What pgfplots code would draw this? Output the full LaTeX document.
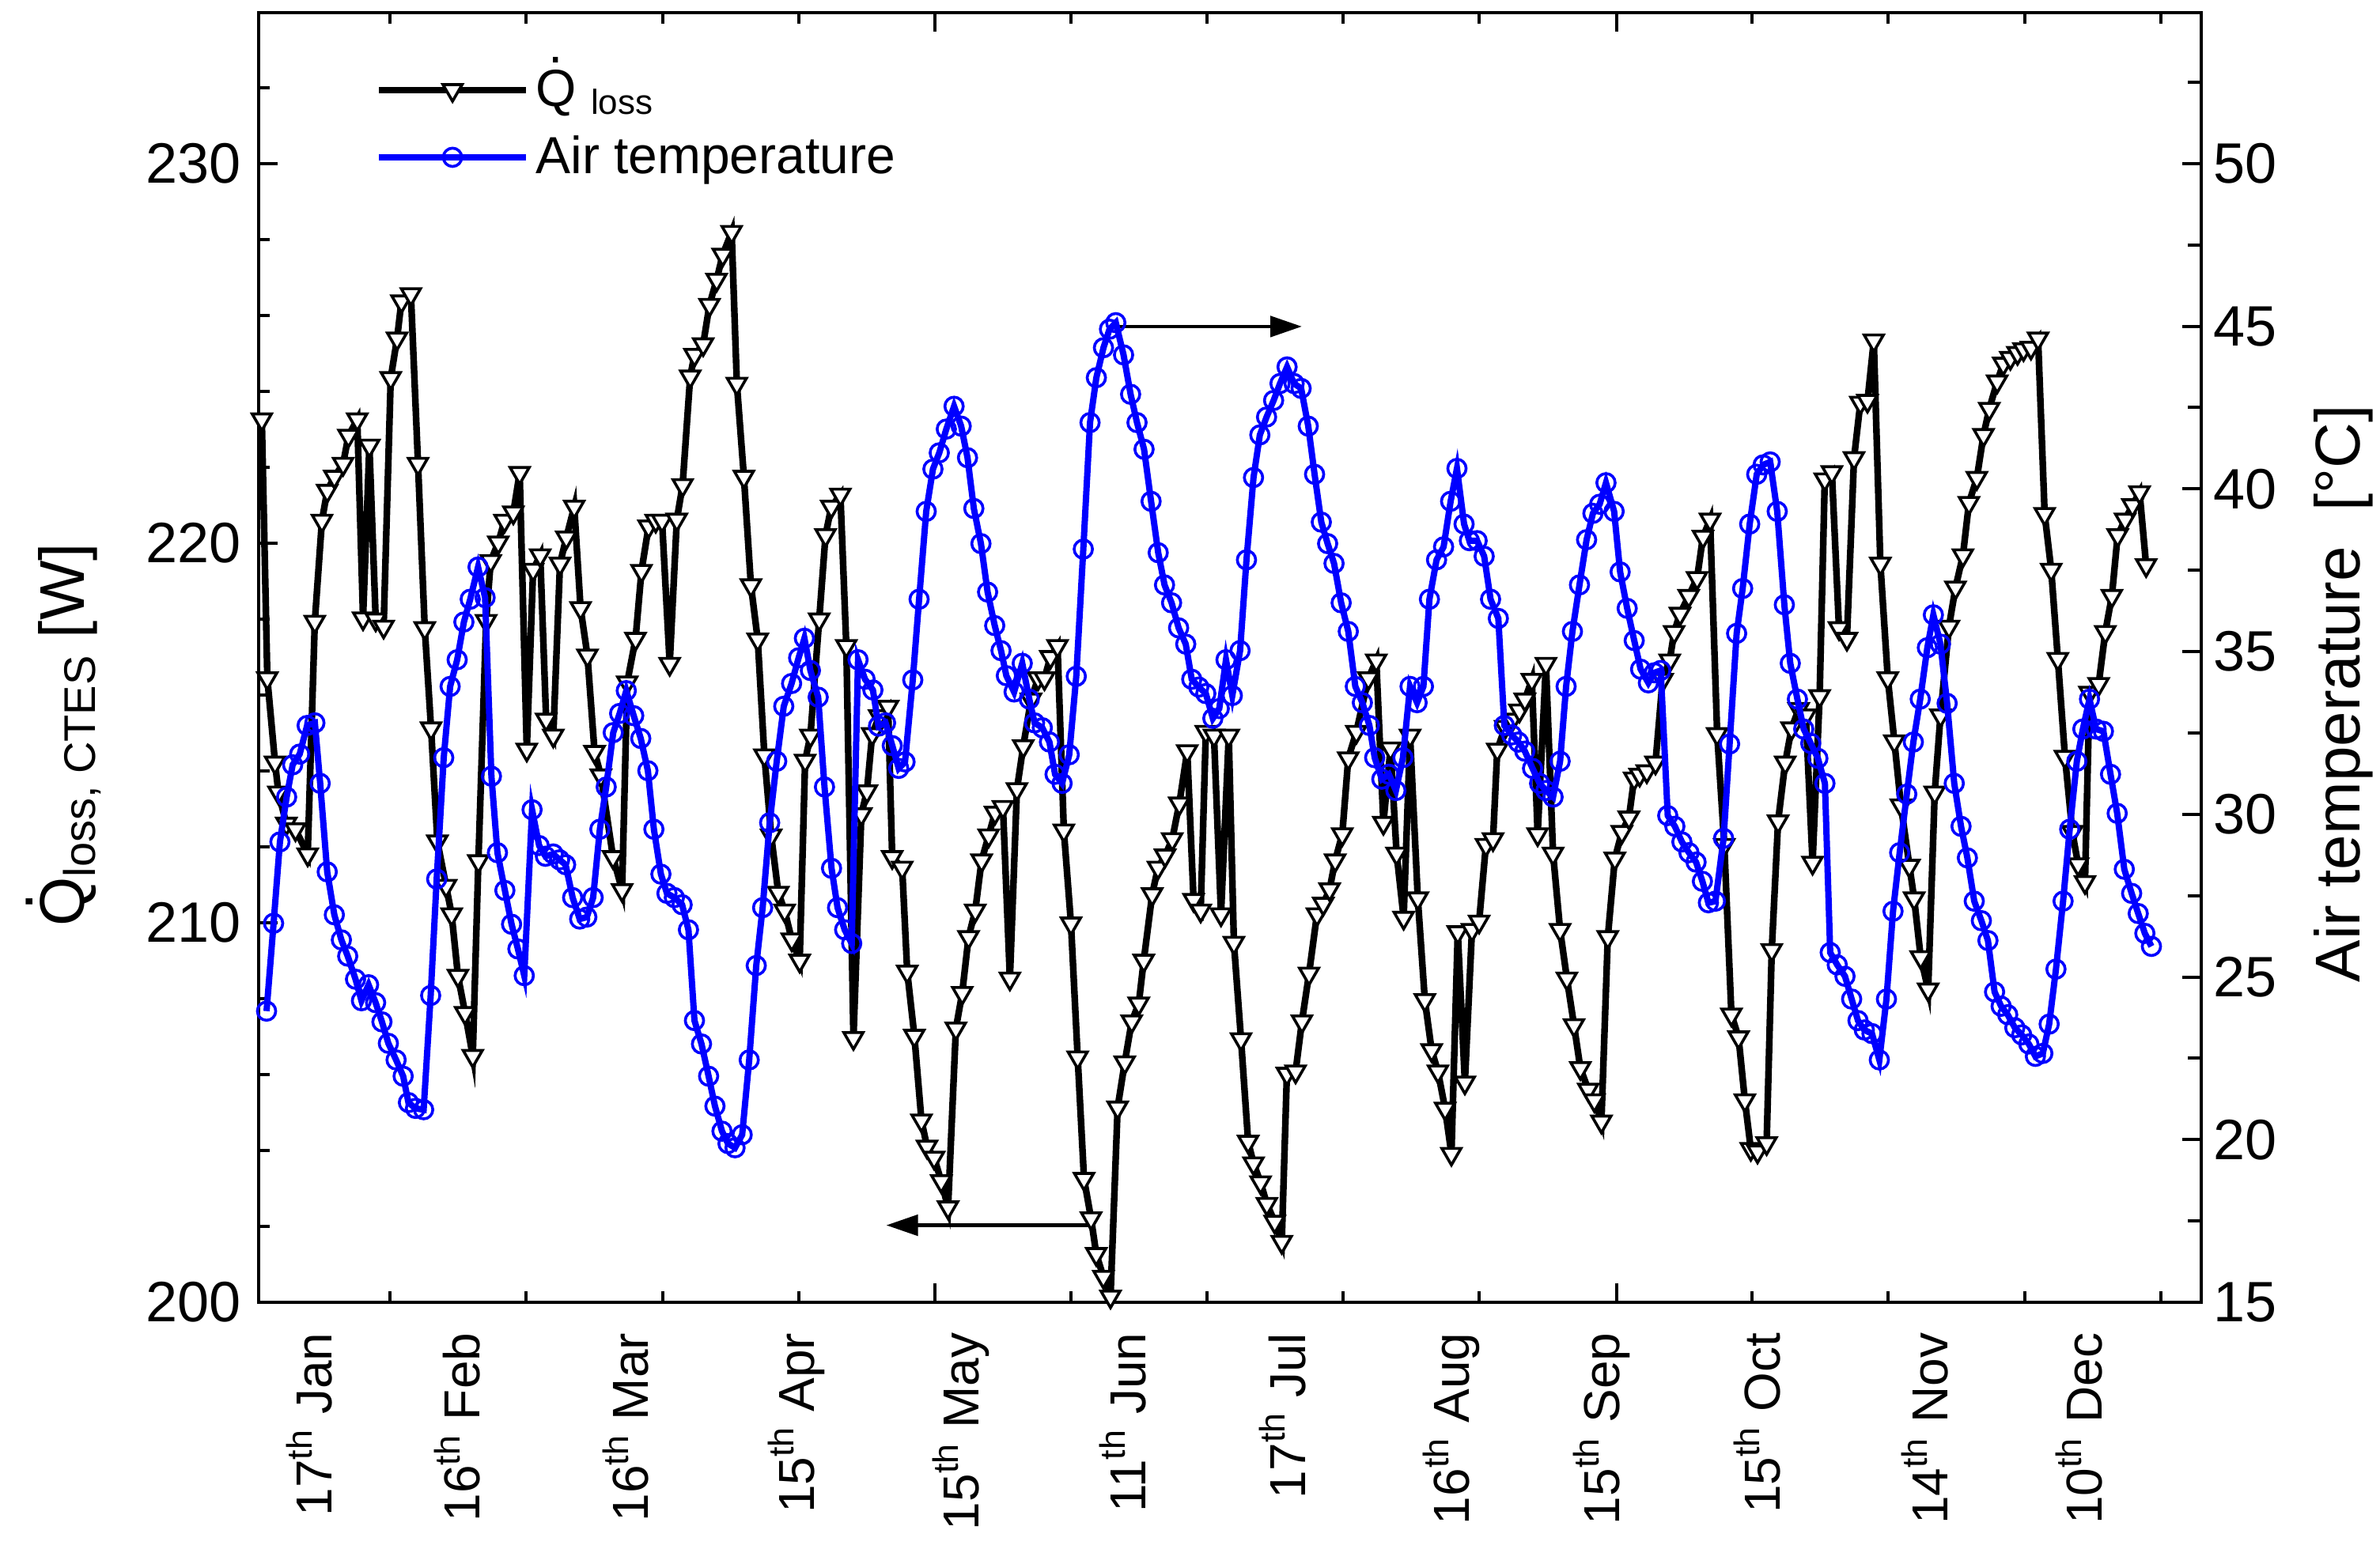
\documentclass[border=0pt]{standalone}
\usepackage{pgfplots}
\pgfplotsset{compat=1.18}
\usepackage{fontspec}
\setmainfont{Liberation Sans}
\usetikzlibrary{arrows.meta}
\newcommand{\Qdot}{\ooalign{Q\cr\hidewidth\raisebox{0.82em}{.}\hidewidth\cr}}
\definecolor{pblue}{RGB}{0,0,255}
\begin{document}
\begin{tikzpicture}
\useasboundingbox (-81.75pt,-78pt) rectangle (670.5pt,411.75pt);
\begin{axis}[
  at={(0pt,0pt)}, anchor=south west,
  scale only axis, width=614pt, height=407.75pt,
  xmin=327, xmax=2783, ymin=200, ymax=233.98,
  axis line style={line width=1pt},
  tick style={line width=1pt, black},
  tick align=inside,
  major tick length=6pt, minor tick length=3.5pt,
  ytick={200,210,220,230}, minor ytick={202,204,206,208,212,214,216,218,222,224,226,228,232},
  ytick pos=left, xtick pos=both,
  xtick={1182.2,2043.7},
  xticklabels={{},{}},
  minor xtick={493,665.3,837.6,1009.9,1353.5,1525.8,1698.1,1870.4,2215,2387.3,2559.6,2731.9},
  extra x ticks={420,607,820,1029,1237,1448,1650,1857,2047,2250,2462,2657},
  extra x tick labels={{17\textsuperscript{th} Jan},{16\textsuperscript{th} Feb},{16\textsuperscript{th} Mar},{15\textsuperscript{th} Apr},{15\textsuperscript{th} May},{11\textsuperscript{th} Jun},{17\textsuperscript{th} Jul},{16\textsuperscript{th} Aug},{15\textsuperscript{th} Sep},{15\textsuperscript{th} Oct},{14\textsuperscript{th} Nov},{10\textsuperscript{th} Dec}},
  extra x tick style={major tick length=0pt},
  xticklabel style={rotate=90, anchor=base east, inner sep=0pt, font=\fontsize{16}{16}\selectfont},
  xticklabel shift=9.5pt,
  yticklabel style={inner sep=0pt, font=\fontsize{18}{18}\selectfont},
  yticklabel shift=5.5pt,
  /pgf/number format/assume math mode=true,
  ylabel={\Qdot\raisebox{-3.5pt}{\fontsize{14}{14}\selectfont loss, CTES}\ [W]},
  ylabel style={at={(axis description cs:-0.0897,0.44)}, anchor=base, inner sep=0pt, font=\fontsize{20}{20}\selectfont},
]
\addplot[black, line width=2.1pt, mark=triangle*, mark size=3.5pt, mark options={rotate=180, fill=white, draw=black, line width=0.9pt, solid}] coordinates {
(331,223.26) (338,216.44) (347.7,214.22) (352,213.43) (362,212.61) (373.6,212.46) (389,211.80) (398,217.93) (407,220.59) (413.7,221.38)
(422.7,221.75) (433.8,222.09) (440.5,222.83) (451.7,223.26) (459,218.02) (467,222.57) (475,217.99) (485,217.80) (494,224.35) (502,225.39)
(507.5,226.37) (519.5,226.56) (528.5,222.09) (537,217.76) (545,215.12) (553,212.14) (564,210.97) (571,210.22) (579,208.60) (588,207.62)
(597.7,206.49) (604.8,211.62) (614.6,217.95) (620.4,219.53) (630,220.02) (637.8,220.59) (649,220.81) (657,221.85) (666,214.56) (674,219.30)
(683,219.68) (690.5,215.35) (699.5,214.93) (708,219.46) (716,220.15) (726,220.96) (734,218.29) (742.7,217.04) (751.7,214.50) (759.7,213.88)
(775,211.73) (786.5,210.86) (793,216.33) (803.5,217.48) (811,219.27) (820,220.44) (829,220.59) (837,220.59) (846.7,216.82) (855.7,220.62)
(863,221.53) (872.6,224.39) (878,224.96) (889,225.24) (897,226.28) (906,226.94) (913.7,227.60) (925,228.20) (931.6,224.20) (940.5,221.75)
(949.4,218.89) (958,217.46) (966.4,214.41) (975,212.30) (984,210.79) (992,210.32) (1001,209.56) (1011,209.00) (1017.9,214.27) (1024.6,214.93)
(1035.7,217.99) (1043.7,220.21) (1051,220.96) (1062.5,221.28) (1070,217.29) (1079,206.96) (1089,212.86) (1096,213.46) (1102.7,214.97) (1111.6,215.44)
(1122.8,215.69) (1128,211.73) (1140.6,211.45) (1147,208.71) (1156,207.02) (1165,204.79) (1172,204.10) (1181,203.81) (1190,203.19) (1198.6,202.50)
(1208.5,207.21) (1216.5,208.15) (1224.5,209.62) (1233,210.32) (1241,211.64) (1250,212.30) (1258,212.90) (1268,213.05) (1276.8,208.53) (1285.7,213.52)
(1293.7,214.65) (1303.5,215.88) (1312.5,216.44) (1320.5,216.44) (1328,217.00) (1337,217.29) (1345,212.43) (1354,209.98) (1362.5,206.45) (1370.5,203.25)
(1379.4,202.21) (1386,201.27) (1395,200.67) (1404,200.15) (1413,205.13) (1422,206.32) (1430.8,207.40) (1439.7,207.87) (1446,209.00) (1456.7,210.75)
(1464,211.45) (1473,211.77) (1482,212.20) (1491,213.14) (1501,214.52) (1509,210.60) (1518,210.32) (1524.5,215.03) (1534.8,214.93) (1543.7,210.22)
(1553.5,214.93) (1560,209.47) (1569,206.93) (1578,204.23) (1584.8,203.66) (1593.7,203.16) (1601.7,202.59) (1611.6,202.12) (1620.5,201.59) (1627,206.02)
(1638,206.08) (1646,207.40) (1655,208.66) (1665,210.22) (1673,210.50) (1681,210.88) (1688,211.64) (1697,212.33) (1704.6,214.33) (1714.8,215.03)
(1730,216.44) (1740,216.91) (1749,212.63) (1758,214.59) (1765.7,211.82) (1774.6,210.13) (1782.7,214.93) (1792.5,210.64) (1801.4,207.96) (1810,206.64)
(1818,206.08) (1827,205.10) (1835,203.91) (1843,209.75) (1852,205.79) (1861,209.81) (1870,210.03) (1878.6,212.05) (1887.6,212.20) (1893,214.56)
(1903,215.16) (1912,215.35) (1921,215.59) (1927.8,215.88) (1936.7,216.40) (1944,212.33) (1954.5,216.82) (1963.5,211.82) (1972.4,209.81) (1981,208.53)
(1990,207.30) (1998,206.17) (2008,205.60) (2015.7,205.32) (2024.6,204.76) (2032.7,209.62) (2041.6,211.69) (2050.5,212.39) (2059.4,212.77) (2066,213.80)
(2073,213.90) (2082,213.99) (2093,214.22) (2102,216.40) (2111,216.91) (2116.6,217.66) (2124,218.14) (2135,218.61) (2145.6,219.08) (2153,220.17)
(2162,220.62) (2171,214.97) (2180,212.05) (2189,207.58) (2198,206.98) (2206,205.32) (2213.5,204.04) (2222,203.97) (2233.5,204.19) (2240,209.28)
(2248,212.67) (2257,214.22) (2265,215.12) (2274,215.63) (2283,215.46) (2291.6,211.58) (2300.5,215.97) (2307,221.68) (2316,221.87) (2325,217.76)
(2335,217.48) (2344,222.24) (2352,223.70) (2361,223.75) (2369,225.34) (2377.3,219.46) (2386.7,216.44) (2395,214.78) (2403.3,213.09) (2414,211.50)
(2420,210.64) (2428.3,209.09) (2437.7,208.24) (2446,213.43) (2453.3,215.46) (2464,217.80) (2472.3,218.83) (2481.7,219.68) (2489.3,221.06) (2499.3,221.72)
(2507.7,222.85) (2515,223.54) (2525,224.26) (2532.7,224.73) (2541.7,224.88) (2550.7,225.01) (2558.3,225.11) (2567.7,225.15) (2576.7,225.39) (2585,220.77)
(2593.3,219.30) (2601.7,216.95) (2610.7,214.37) (2620,212.39) (2627.3,211.54) (2636,211.07) (2641.7,216.06) (2653.3,216.29) (2661.7,217.66) (2670,218.61)
(2677.3,220.21) (2686.7,220.62) (2696,221.00) (2705,221.34) (2713.3,219.42)
};
\draw[line width=1.2pt, -{Triangle[length=10pt,width=6.5pt]}] (axis cs:1413,225.71) -- (axis cs:1646,225.71);
\draw[line width=1.2pt, -{Triangle[length=10pt,width=6.5pt]}] (axis cs:1377,202.03) -- (axis cs:1120.5,202.03);
\end{axis}
\begin{axis}[
  at={(0pt,0pt)}, anchor=south west,
  scale only axis, width=614pt, height=407.75pt,
  xmin=327, xmax=2783, ymin=15, ymax=54.64,
  axis x line=none, axis y line*=right,
  axis line style={line width=1pt},
  tick style={line width=1pt, black},
  tick align=inside,
  major tick length=6pt, minor tick length=4.25pt,
  ytick={15,20,25,30,35,40,45,50}, minor ytick={17.5,22.5,27.5,32.5,37.5,42.5,47.5,52.5},
  yticklabel style={inner sep=0pt, font=\fontsize{18}{18}\selectfont},
  yticklabel shift=3.75pt,
  /pgf/number format/assume math mode=true,
  ylabel={Air temperature\ \ [°C]},
  ylabel style={at={(axis description cs:1.0815,0.472)}, anchor=base, inner sep=0pt, font=\fontsize{20}{20}\selectfont},
  legend style={draw=none, fill=none, at={(axis description cs:0.0599,0.9136)}, anchor=west, inner sep=0pt, row sep=4pt, font=\fontsize{16.5}{16.5}\selectfont, /tikz/every even column/.append style={column sep=2.5pt}},
  legend cell align=left,
  legend image code/.code={\draw[mark repeat=2,mark phase=2,#1] plot coordinates {(0pt,0pt) (23.25pt,0pt) (46.5pt,0pt)};},
]
\addlegendimage{black, line width=2.1pt, mark=triangle*, mark size=3.5pt, mark options={rotate=180, fill=white, draw=black, line width=0.9pt, solid}}
\addlegendentry{\Qdot\ \raisebox{-2.5pt}{\fontsize{11}{11}\selectfont loss}}
\addplot[pblue, line width=2pt, mark=o, mark size=2.9pt, mark options={fill=white, draw=pblue, line width=0.9pt, solid}] coordinates {
(337,23.95) (345.9,26.65) (353.9,29.15) (362.4,30.53) (370,31.52) (378.9,31.85) (388.3,32.73) (398.1,32.81) (404.8,30.95) (413.7,28.23)
(422.7,26.91) (431.6,26.14) (439.6,25.64) (449.5,24.93) (457,24.27) (466,24.76) (474.9,24.21) (482.9,23.62) (491,22.96) (500.8,22.45)
(509.7,21.95) (516.4,21.14) (525.3,20.96) (535.6,20.92) (544.5,24.43) (552.1,28.01) (561,31.74) (569.1,33.93) (578,34.75) (586.5,35.91)
(594.5,36.61) (604.4,37.60) (613.3,36.66) (621.3,31.17) (628.9,28.82) (638.3,27.66) (646.8,26.62) (654.8,25.86) (662.8,25.04) (672.7,30.14)
(681.6,29.04) (689.6,28.71) (699.4,28.78) (707.5,28.60) (715.1,28.45) (724,27.44) (732.9,26.78) (741.9,26.84) (749.9,27.44) (758.4,29.54)
(766.4,30.84) (775.3,32.51) (783.4,33.10) (791.8,33.80) (801.2,33.03) (810.1,32.33) (819.1,31.34) (826.7,29.54) (835.6,28.16) (843.2,27.57)
(852.6,27.44) (862.4,27.22) (870.4,26.45) (878,23.66) (886.9,22.94) (895.9,21.95) (903.9,21.03) (912.8,20.26) (920.4,19.88) (929.3,19.75)
(938.3,20.15) (947.2,22.45) (956.1,25.35) (964.2,27.13) (973.1,29.74) (982,31.63) (990.9,33.32) (1000.8,34.02) (1009.7,34.81) (1017,35.41)
(1024.6,34.42) (1034.4,33.60) (1042.4,30.84) (1051.3,28.34) (1058.9,27.13) (1067.9,26.45) (1076.8,26.03) (1084.8,34.75) (1093.7,34.15) (1103.6,33.82)
(1110.7,32.71) (1119.6,32.81) (1128.1,32.11) (1136.2,31.41) (1144.2,31.61) (1154,34.13) (1162,36.61) (1171,39.31) (1179.5,40.61) (1187.5,41.11)
(1196.4,41.84) (1206.2,42.54) (1215.2,41.93) (1223.2,40.96) (1231.2,39.40) (1240.2,38.32) (1248.6,36.83) (1257.6,35.80) (1265.6,35.03) (1272.3,34.26)
(1282.1,33.76) (1292.4,34.64) (1301.3,33.54) (1308,32.81) (1317.8,32.66) (1326.8,32.22) (1333.9,31.23) (1342.8,30.95) (1351.8,31.83) (1360.7,34.24)
(1369.6,38.15) (1378.1,42.04) (1386.1,43.42) (1395.1,44.34) (1402.7,44.91) (1410.7,45.11) (1420.5,44.12) (1429.4,42.91) (1437.5,42.04) (1446.4,41.22)
(1455.3,39.62) (1464.3,38.04) (1472.3,37.05) (1481.2,36.50) (1490.1,35.73) (1499.1,35.23) (1506.7,34.15) (1515.6,33.91) (1524.5,33.71) (1533.4,32.95)
(1541.5,33.25) (1550,34.75) (1558,33.65) (1567.8,35.03) (1575.9,37.82) (1584.8,40.35) (1592.8,41.66) (1601.3,42.21) (1610.2,42.72) (1618.3,43.24)
(1627.2,43.75) (1636.1,43.24) (1645,43.09) (1654,41.93) (1662,40.45) (1670.5,38.98) (1678.5,38.32) (1686.6,37.71) (1695.6,36.50) (1704.6,35.62)
(1713.5,33.93) (1722.4,33.43) (1731.3,32.73) (1738,31.74) (1747,31.08) (1755.9,31.23) (1764.8,30.73) (1773.7,31.74) (1782.7,33.93) (1791.6,33.43)
(1799.6,33.93) (1807.2,36.61) (1816.2,37.82) (1825.1,38.22) (1834,39.62) (1842,40.63) (1851,38.92) (1857.7,38.41) (1867.5,38.41) (1876.4,37.93)
(1884.5,36.61) (1894.3,36.02) (1901.9,32.73) (1911.2,32.44) (1919.7,32.22) (1927.8,31.94) (1937.6,31.41) (1946.5,30.95) (1954.5,30.73) (1963.5,30.53)
(1972.4,31.63) (1980,33.93) (1988,35.62) (1996.9,37.05) (2005.9,38.44) (2013.9,39.25) (2022.4,39.53) (2030.4,40.19) (2040.7,39.31) (2048.3,37.45)
(2057.2,36.33) (2066.1,35.34) (2074.2,34.46) (2084,34.04) (2091.6,34.35) (2099.6,34.42) (2108.5,29.96) (2117.5,29.63) (2126.4,29.15) (2135.3,28.82)
(2144.3,28.53) (2152.3,27.94) (2159.9,27.28) (2168.8,27.33) (2179.1,29.26) (2186.7,32.16) (2195.6,35.56) (2203.2,36.94) (2212.1,38.92) (2221,40.45)
(2229.1,40.74) (2238,40.83) (2246.9,39.31) (2255.9,36.44) (2263.4,34.64) (2272.4,33.54) (2280.4,32.62) (2289.3,32.18) (2298.3,31.72) (2307.2,30.95)
(2313.9,25.75) (2322.8,25.37) (2332.6,25.02) (2341,24.32) (2349,23.66) (2357,23.37) (2366.7,23.26) (2376,22.45) (2385,24.32) (2393.3,27.02)
(2401.7,28.82) (2410.7,30.62) (2419,32.22) (2427.7,33.54) (2436.7,35.12) (2444.3,36.13) (2453.3,35.23) (2461.7,33.41) (2470.7,30.95) (2479.3,29.63)
(2487.3,28.66) (2496,27.33) (2505,26.73) (2513.3,26.12) (2521.7,24.54) (2530,24.10) (2538.3,23.84) (2547.3,23.44) (2556,23.22) (2565,22.94)
(2573.3,22.56) (2582.7,22.65) (2590.7,23.55) (2599.3,25.24) (2608.3,27.33) (2616.7,29.54) (2625.7,31.63) (2633.3,32.62) (2641.7,33.54) (2650,32.62)
(2659.3,32.55) (2668.3,31.23) (2676.7,30.03) (2685.7,28.31) (2695,27.57) (2703.3,26.95) (2711.7,26.34) (2720,25.94)
};
\addlegendentry{Air temperature}
\end{axis}
\end{tikzpicture}
\end{document}
